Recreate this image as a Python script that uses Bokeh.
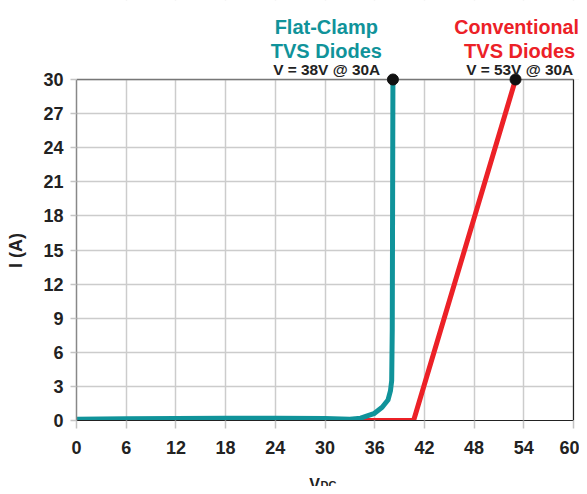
from bokeh.plotting import figure
from bokeh.models import Range1d, FixedTicker, Label
from bokeh.layouts import column
from bokeh.embed import file_html
from bokeh.resources import INLINE

# ---- data ----
x_ticks = [0, 6, 12, 18, 24, 30, 36, 42, 48, 54, 60]
y_ticks = [0, 3, 6, 9, 12, 15, 18, 21, 24, 27, 30]

flat_v = [0, 6, 12, 18, 24, 30, 33, 34.3, 35.9, 36.9, 37.6, 37.9, 38.05, 38.12, 38.2]
flat_i = [0.12, 0.15, 0.18, 0.2, 0.2, 0.18, 0.12, 0.2, 0.6, 1.17, 1.8, 2.6, 3.5, 8.0, 30]

conv_v = [0, 40.7, 53.0]
conv_i = [0, 0, 30]

clamp_pts_v = [38.2, 53.0]
clamp_pts_i = [30, 30]

X_MAX = 60
Y_MAX = 30

TEAL = "#10939a"
RED = "#ec2127"
DARK = "#222222"
FONT = "Liberation Sans"

# ---- layout geometry (pixels) ----
W = 579
LEFT = 76            # left axis panel
RIGHT_PAD = 6        # room right of the 0..60 area (inside the frame)
TOP_PAD = 79         # room above the 0..30 area (inside the frame)
PLOT_W, PLOT_H = 497, 341
BOTTOM = 42
MAIN_H = TOP_PAD + PLOT_H + BOTTOM
FOOT_H = 24

ppx = PLOT_W / X_MAX
ppy = PLOT_H / Y_MAX
x_end = X_MAX + RIGHT_PAD / ppx
y_end = Y_MAX + TOP_PAD / ppy
shared_x = Range1d(0, x_end)

p = figure(width=W, height=MAIN_H, output_backend="svg", toolbar_location=None,
           title=None, x_range=shared_x, y_range=Range1d(0, y_end),
           min_border_left=LEFT, min_border_right=0, min_border_top=0,
           min_border_bottom=BOTTOM)
p.background_fill_color = "white"
p.border_fill_color = "white"
p.outline_line_color = None

for ax in (p.xaxis[0], p.yaxis[0]):
    ax.major_label_text_font = FONT
    ax.major_label_text_font_style = "bold"
    ax.major_label_text_font_size = "18px"
    ax.major_label_text_color = DARK
    ax.minor_tick_line_color = None
    ax.major_tick_in = 0
    ax.major_tick_line_color = "#c4c4c4"
    ax.major_tick_line_width = 1.5

p.xaxis.ticker = FixedTicker(ticks=x_ticks)
p.yaxis.ticker = FixedTicker(ticks=y_ticks)
p.xaxis.bounds = (0, X_MAX)
p.yaxis.bounds = (0, Y_MAX)
p.xaxis.major_tick_out = 8
p.yaxis.major_tick_out = 6
p.xaxis.major_label_standoff = 12
p.yaxis.major_label_standoff = 7
p.xaxis.axis_line_color = DARK
p.yaxis.axis_line_color = "#888888"
p.xaxis.axis_line_width = 1.2
p.yaxis.axis_line_width = 1.5

# the label is centred on the whole frame; trailing no-break spaces move it
# down to the middle of the 0..30 span
p.yaxis.axis_label = "I (A)" + "\u00a0" * 16
p.yaxis.axis_label_text_font = FONT
p.yaxis.axis_label_text_font_style = "bold"
p.yaxis.axis_label_text_font_size = "18px"
p.yaxis.axis_label_text_color = DARK
p.yaxis.axis_label_standoff = 14

p.grid.grid_line_color = "#cccccc"
p.grid.grid_line_width = 1.5
p.xgrid.ticker = FixedTicker(ticks=x_ticks)
p.ygrid.ticker = FixedTicker(ticks=y_ticks)

# white strips above and right of the plot area hide grid lines there
p.quad(left=[0, X_MAX], right=[x_end, x_end], bottom=[Y_MAX, 0], top=[y_end, Y_MAX],
       fill_color="white", line_color=None)
# frame: top (grey) and right (dark) borders
p.segment(x0=[0], y0=[Y_MAX], x1=[X_MAX], y1=[Y_MAX], line_color="#777777", line_width=1.3)
p.segment(x0=[X_MAX], y0=[0], x1=[X_MAX], y1=[Y_MAX], line_color="#222222", line_width=1.2)

p.line(conv_v, conv_i, line_color=RED, line_width=5, line_join="round")
p.line(flat_v, flat_i, line_color=TEAL, line_width=5, line_join="round", line_cap="round")
p.scatter(clamp_pts_v, clamp_pts_i, size=11, fill_color="#111111", line_color="#111111")

def add_label(fig, x, y, off, text, color, size, align="center"):
    fig.add_layout(Label(x=x, y=y, y_offset=off, text=text, text_align=align,
                         text_baseline="alphabetic", text_color=color,
                         text_font=FONT, text_font_style="bold",
                         text_font_size=size))

add_label(p, 30.16, Y_MAX, 52.3, "Flat-Clamp", TEAL, "20px")
add_label(p, 30.16, Y_MAX, 29, "TVS Diodes", TEAL, "20px")
add_label(p, 30.2, Y_MAX, 9.7, "V = 38V @ 30A", DARK, "15.4px")
add_label(p, 53.12, Y_MAX, 52.3, "Conventional", RED, "19.7px")
add_label(p, 53.5, Y_MAX, 29, "TVS Diodes", RED, "20px")
add_label(p, 53.5, Y_MAX, 9.7, "V = 53V @ 30A", DARK, "15.4px")

# ---- footer (x-axis title V_DC) ----
foot = figure(width=W, height=FOOT_H, output_backend="svg", toolbar_location=None,
              title=None, x_range=shared_x, y_range=Range1d(0, 12),
              x_axis_location=None, y_axis_location=None,
              min_border_left=LEFT, min_border_right=0, min_border_top=0,
              min_border_bottom=0)
foot.outline_line_color = None
foot.grid.visible = False
add_label(foot, 29.4, 1.1, 0, "V", DARK, "16px", align="right")
add_label(foot, 29.47, 0.8, 0, "DC", DARK, "11px", align="left")

layout = column(p, foot, spacing=0)
open("out.html", "w").write(file_html(layout, INLINE))
